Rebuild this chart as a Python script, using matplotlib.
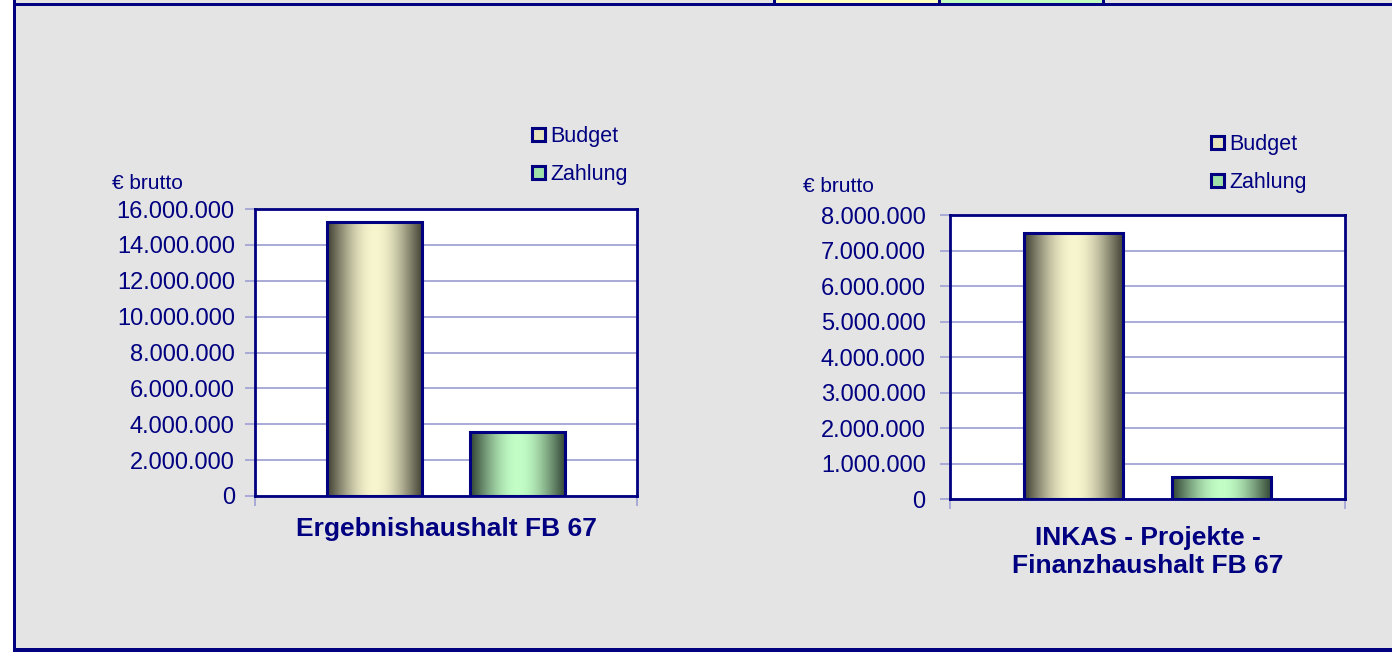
import numpy as np
import matplotlib
matplotlib.use("Agg")
import matplotlib.pyplot as plt
from matplotlib.patches import Rectangle
from matplotlib.ticker import FuncFormatter

plt.rcParams['font.family'] = ['Liberation Sans', 'DejaVu Sans']

# data
series = ['Budget', 'Zahlung']
left_title = 'Ergebnishaushalt FB 67'
left_values = [15250000, 3580000]
left_ticks = [0, 2000000, 4000000, 6000000, 8000000, 10000000, 12000000, 14000000, 16000000]
right_title = 'INKAS - Projekte -\nFinanzhaushalt FB 67'
right_values = [7500000, 640000]
right_ticks = [0, 1000000, 2000000, 3000000, 4000000, 5000000, 6000000, 7000000, 8000000]

NAVY = '#000080'
GRID = '#a4a4d6'
BG = '#e4e4e4'
dark = [np.array([0x42, 0x42, 0x36]) / 255, np.array([0x33, 0x46, 0x36]) / 255]
light = [np.array([0xf8, 0xf6, 0xce]) / 255, np.array([0xc2, 0xfe, 0xc6]) / 255]
legend_face = ['#e6e4bc', '#9ee0a8']

W, H = 1392, 652
fig = plt.figure(figsize=(W / 100, H / 100), dpi=100)
fig.patch.set_facecolor('white')


def px_rect(x0, y0, x1, y1, **kw):
    # rectangle in figure pixel coords (y from top)
    fig.add_artist(Rectangle((x0 / W, 1 - y1 / H), (x1 - x0) / W, (y1 - y0) / H,
                             transform=fig.transFigure, **kw))


# background panel and frame
px_rect(16, 0, W, H, facecolor=BG, edgecolor='none', zorder=0)
px_rect(775, 0, 939, 4, facecolor='#ffffc0', edgecolor='none', zorder=0)
px_rect(939, 0, 1103, 4, facecolor='#c0ffc0', edgecolor='none', zorder=0)
px_rect(13, 0, 16, H, facecolor=NAVY, edgecolor='none', zorder=1)
px_rect(13, 3, W, 6, facecolor=NAVY, edgecolor='none', zorder=1)
px_rect(13, 648, W, H, facecolor=NAVY, edgecolor='none', zorder=1)
for xv in (773, 938, 1102):
    px_rect(xv, 0, xv + 2.5, 4, facecolor=NAVY, edgecolor='none', zorder=1)

fmt = FuncFormatter(lambda v, p: f"{int(v):,}".replace(',', '.'))


def draw_chart(rect, values, ticks, title, tick_pad, label_pad, leg_xy, unit_xy):
    ax = fig.add_axes(rect)
    ax.set_facecolor('white')
    x = np.arange(len(values))
    bars = ax.bar(x, values, width=0.67, facecolor='none', edgecolor=NAVY,
                  linewidth=2.2, zorder=3)
    t = np.linspace(0, 1, 200)
    w = np.sin(np.pi * t) ** 1.1
    for i, b in enumerate(bars):
        grad = dark[i][None, :] * (1 - w[:, None]) + light[i][None, :] * w[:, None]
        x0, y0 = b.get_x(), b.get_y()
        im = ax.imshow(grad[None, :, :], extent=(x0, x0 + b.get_width(), y0, y0 + b.get_height()),
                       aspect='auto', zorder=2.5, interpolation='bilinear')
        im.set_clip_path(b)
    ax.set_xlim(-0.835, len(values) - 1 + 0.835)
    ax.set_ylim(ticks[0], ticks[-1])
    ax.set_yticks(ticks)
    ax.yaxis.set_major_formatter(fmt)
    ax.set_xticks(ax.get_xlim())
    ax.set_xticklabels([])
    ax.grid(axis='y', color=GRID, linewidth=1.3, zorder=1)
    ax.set_axisbelow(True)
    for s in ax.spines.values():
        s.set_color(NAVY)
        s.set_linewidth(2)
        s.set_zorder(4)
    ax.tick_params(axis='y', length=7, width=1.3, color=GRID, labelcolor=NAVY,
                   labelsize=17, pad=tick_pad)
    ax.tick_params(axis='x', length=7, width=1.3, color=GRID)
    ax.set_xlabel(title, fontsize=19, fontweight='bold', color=NAVY, labelpad=label_pad)
    handles = [Rectangle((0, 0), 1, 1, facecolor=legend_face[i], edgecolor=NAVY, linewidth=2.2)
               for i in range(len(series))]
    fig.legend(handles, series, loc='upper left', bbox_to_anchor=(leg_xy[0] / W, 1 - leg_xy[1] / H),
               frameon=False, fontsize=15.5, labelcolor=NAVY, handlelength=0.6, handleheight=0.6,
               handletextpad=0.25, labelspacing=0.8, borderpad=0, borderaxespad=0)
    fig.text(unit_xy[0] / W, 1 - unit_xy[1] / H, '€ brutto', fontsize=15, color=NAVY,
             ha='left', va='center')
    return ax


draw_chart([255 / W, 1 - 496 / H, 382 / W, 287 / H], left_values, left_ticks, left_title,
           7.5, 4.5, (532, 126), (112, 183))
draw_chart([950 / W, 1 - 499.3 / H, 395 / W, 284.3 / H], right_values, right_ticks, right_title,
           10.5, 9, (1211, 134), (803, 187))

fig.savefig('out.png', dpi=100, facecolor=fig.get_facecolor())
